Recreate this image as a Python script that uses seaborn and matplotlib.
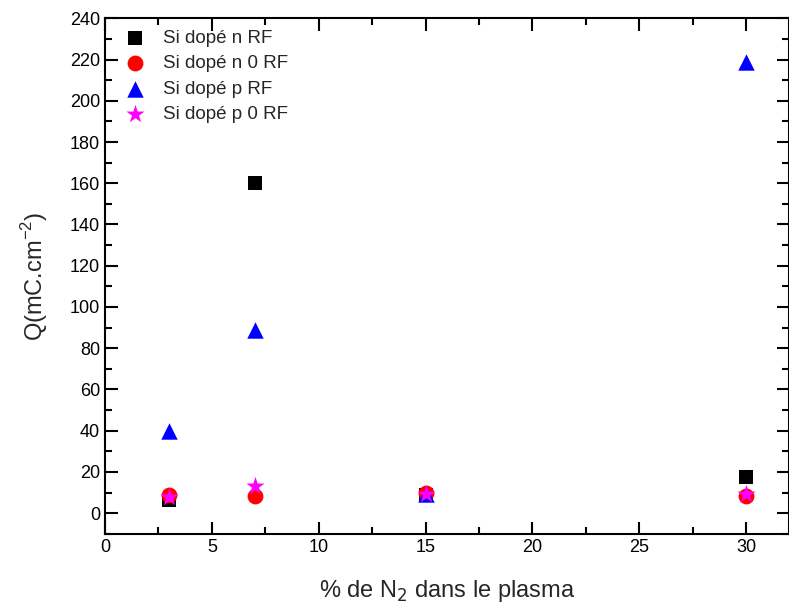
import pandas as pd
import numpy as np
import matplotlib
matplotlib.use('Agg')
import matplotlib.pyplot as plt
from matplotlib.ticker import MultipleLocator
import seaborn as sns

# values
n2_percent = [3, 7, 15, 30]
si_n_rf = [6.5, 160, 9, 17.5]
si_n_0rf = [9, 8.5, 10, 8.5]
si_p_rf = [40, 89, 9.5, 219]
si_p_0rf = [8, 13, 9.5, 9.5]

series_names = ['Si dopé n RF', 'Si dopé n 0 RF', 'Si dopé p RF', 'Si dopé p 0 RF']
series_values = [si_n_rf, si_n_0rf, si_p_rf, si_p_0rf]

df = pd.DataFrame({
    'x': n2_percent * 4,
    'Q': sum(series_values, []),
    'serie': np.repeat(series_names, len(n2_percent)),
})

sns.set_style('ticks')
plt.rcParams['font.family'] = ['Liberation Sans', 'DejaVu Sans']

fig, ax = plt.subplots(figsize=(7.89, 6.10), dpi=100)
fig.subplots_adjust(left=0.133, right=1.0, top=0.970, bottom=0.125)

palette = dict(zip(series_names, ['black', 'red', 'blue', 'magenta']))
markers = dict(zip(series_names, ['s', 'o', '^', '*']))
sizes = dict(zip(series_names, [110, 130, 140, 190]))

for name in series_names:
    sub = df[df['serie'] == name]
    sns.scatterplot(data=sub, x='x', y='Q', color=palette[name], marker=markers[name],
                    s=sizes[name], linewidth=0, label=name, ax=ax, zorder=3)

ax.set_xlim(0, 32)
ax.set_ylim(-10, 240)
ax.xaxis.set_major_locator(MultipleLocator(5))
ax.xaxis.set_minor_locator(MultipleLocator(2.5))
ax.set_yticks(np.arange(0, 241, 20))
ax.yaxis.set_minor_locator(MultipleLocator(10))
ax.tick_params(which='both', direction='in', top=True, right=True, width=1.5, labelsize=13, colors='black')
ax.tick_params(which='major', length=9)
ax.tick_params(which='minor', length=5)
for sp in ax.spines.values():
    sp.set_visible(True)
    sp.set_linewidth(1.5)
    sp.set_color('black')

ax.set_xlabel('% de N$_2$ dans le plasma', fontsize=17, labelpad=16)
ax.set_ylabel('Q(mC.cm$^{\\mathregular{-2}}$)', fontsize=17, labelpad=14)

leg = ax.legend(loc='upper left', bbox_to_anchor=(0.016, 0.987), borderaxespad=0,
                frameon=False, fontsize=13.5, handletextpad=0.75,
                labelspacing=0.44, borderpad=0.25, handlelength=1.5)

fig.savefig('out.png', dpi=100)
